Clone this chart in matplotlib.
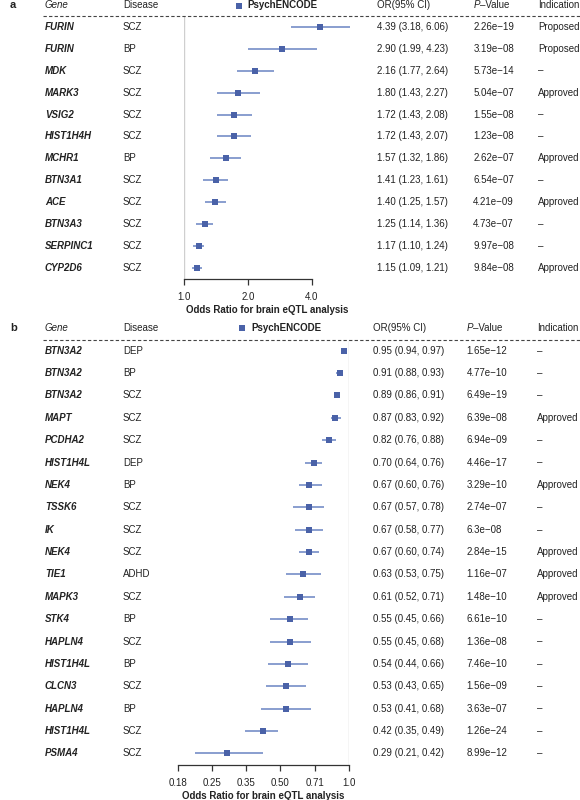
import numpy as np
import matplotlib
matplotlib.use('Agg')
import matplotlib.pyplot as plt
from matplotlib import transforms
from matplotlib.lines import Line2D
from matplotlib.ticker import NullLocator

plt.rcParams['font.family'] = ['Liberation Sans', 'DejaVu Sans']
plt.rcParams['font.size'] = 7

# ---------------- data: panel a ----------------
genes_a = ['FURIN', 'FURIN', 'MDK', 'MARK3', 'VSIG2', 'HIST1H4H', 'MCHR1',
           'BTN3A1', 'ACE', 'BTN3A3', 'SERPINC1', 'CYP2D6']
disease_a = ['SCZ', 'BP', 'SCZ', 'SCZ', 'SCZ', 'SCZ', 'BP', 'SCZ', 'SCZ',
             'SCZ', 'SCZ', 'SCZ']
or_a = [4.39, 2.90, 2.16, 1.80, 1.72, 1.72, 1.57, 1.41, 1.40, 1.25, 1.17, 1.15]
lo_a = [3.18, 1.99, 1.77, 1.43, 1.43, 1.43, 1.32, 1.23, 1.25, 1.14, 1.10, 1.09]
hi_a = [6.06, 4.23, 2.64, 2.27, 2.08, 2.07, 1.86, 1.61, 1.57, 1.36, 1.24, 1.21]
p_a = ['2.26e\u221219', '3.19e\u221208', '5.73e\u221214', '5.04e\u221207',
       '1.55e\u221208', '1.23e\u221208', '2.62e\u221207', '6.54e\u221207',
       '4.21e\u221209', '4.73e\u221207', '9.97e\u221208', '9.84e\u221208']
ind_a = ['Proposed', 'Proposed', '\u2013', 'Approved', '\u2013', '\u2013',
         'Approved', '\u2013', 'Approved', '\u2013', '\u2013', 'Approved']
ticks_a = [1.0, 2.0, 4.0]
ticklabels_a = ['1.0', '2.0', '4.0']

# ---------------- data: panel b ----------------
genes_b = ['BTN3A2', 'BTN3A2', 'BTN3A2', 'MAPT', 'PCDHA2', 'HIST1H4L', 'NEK4',
           'TSSK6', 'IK', 'NEK4', 'TIE1', 'MAPK3', 'STK4', 'HAPLN4',
           'HIST1H4L', 'CLCN3', 'HAPLN4', 'HIST1H4L', 'PSMA4']
disease_b = ['DEP', 'BP', 'SCZ', 'SCZ', 'SCZ', 'DEP', 'BP', 'SCZ', 'SCZ',
             'SCZ', 'ADHD', 'SCZ', 'BP', 'SCZ', 'BP', 'SCZ', 'BP', 'SCZ', 'SCZ']
or_b = [0.95, 0.91, 0.89, 0.87, 0.82, 0.70, 0.67, 0.67, 0.67, 0.67, 0.63,
        0.61, 0.55, 0.55, 0.54, 0.53, 0.53, 0.42, 0.29]
lo_b = [0.94, 0.88, 0.86, 0.83, 0.76, 0.64, 0.60, 0.57, 0.58, 0.60, 0.53,
        0.52, 0.45, 0.45, 0.44, 0.43, 0.41, 0.35, 0.21]
hi_b = [0.97, 0.93, 0.91, 0.92, 0.88, 0.76, 0.76, 0.78, 0.77, 0.74, 0.75,
        0.71, 0.66, 0.68, 0.66, 0.65, 0.68, 0.49, 0.42]
p_b = ['1.65e\u221212', '4.77e\u221210', '6.49e\u221219', '6.39e\u221208',
       '6.94e\u221209', '4.46e\u221217', '3.29e\u221210', '2.74e\u221207',
       '6.3e\u221208', '2.84e\u221215', '1.16e\u221207', '1.48e\u221210',
       '6.61e\u221210', '1.36e\u221208', '7.46e\u221210', '1.56e\u221209',
       '3.63e\u221207', '1.26e\u221224', '8.99e\u221212']
ind_b = ['\u2013', '\u2013', '\u2013', 'Approved', '\u2013', '\u2013',
         'Approved', '\u2013', '\u2013', 'Approved', 'Approved', 'Approved',
         '\u2013', '\u2013', '\u2013', '\u2013', '\u2013', '\u2013', '\u2013']
ticks_b = [2 ** -2.5, 2 ** -2, 2 ** -1.5, 2 ** -1, 2 ** -0.5, 1.0]
ticklabels_b = ['0.18', '0.25', '0.35', '0.50', '0.71', '1.0']

# ---------------- layout ----------------
W, H = 580, 800
fig = plt.figure(figsize=(5.8, 8), dpi=100)


def fx(px):
    return px / W


def fy(py):
    return 1 - py / H


MARK = '#4A62A8'
LINE = '#6A84C2'
GRID = '#CFCFCF'
TXT = '#222222'


def panel(label, genes, disease, orv, lo, hi, pv, ind, ax_px, row0, step,
          header_px, cols, legend_px, xlim, ticks, ticklabels, bounds,
          tickpad):
    left, right, top, bottom = ax_px
    ax = fig.add_axes([fx(left), fy(bottom), fx(right) - fx(left),
                       fy(top) - fy(bottom)])
    ax.patch.set_visible(False)
    n = len(genes)
    y = np.arange(n)
    ybot = (bottom - row0) / step
    ytop = (top - row0) / step
    ax.set_xscale('log', base=2)
    ax.axvline(1.0, color=GRID, lw=1.0, zorder=0)
    ax.hlines(y, lo, hi, color=LINE, lw=1.1, zorder=2, clip_on=False)
    ax.plot(orv, y, 's', color=MARK, ms=4.2, mew=0, zorder=3, clip_on=False)
    ax.set_xlim(*xlim)
    ax.set_ylim(ybot, ytop)
    for s in ['left', 'right', 'top']:
        ax.spines[s].set_visible(False)
    ax.spines['bottom'].set_bounds(*bounds)
    ax.spines['bottom'].set_linewidth(0.9)
    ax.spines['bottom'].set_color('#333333')
    ax.set_yticks([])
    ax.set_xticks(ticks)
    ax.set_xticklabels(ticklabels)
    ax.xaxis.set_minor_locator(NullLocator())
    ax.tick_params(axis='x', length=4, width=0.9, pad=tickpad,
                   color='#333333', labelsize=7, labelcolor=TXT)
    ax.set_xlabel('Odds Ratio for brain eQTL analysis', fontweight='bold',
                  fontsize=7, labelpad=2.5, color=TXT)

    trans = transforms.blended_transform_factory(fig.transFigure, ax.transData)
    x_gene, x_dis, x_or, x_p, x_ind = cols
    for i in range(n):
        fig.text(fx(x_gene), i, genes[i], transform=trans, va='center',
                 ha='left', style='italic', fontweight='bold', color=TXT)
        fig.text(fx(x_dis), i, disease[i], transform=trans, va='center',
                 ha='left', color=TXT)
        fig.text(fx(x_or), i, f'{orv[i]:.2f} ({lo[i]:.2f}, {hi[i]:.2f})',
                 transform=trans, va='center', ha='left', color=TXT)
        fig.text(fx(x_p), i, pv[i], transform=trans, va='center', ha='left',
                 color=TXT)
        fig.text(fx(x_ind), i, ind[i], transform=trans, va='center',
                 ha='left', color=TXT)

    yh = (header_px - row0) / step
    fig.text(fx(10), yh, label, transform=trans, va='center', ha='left',
             fontweight='bold', fontsize=8, color=TXT)
    fig.text(fx(x_gene), yh, 'Gene', transform=trans, va='center', ha='left',
             style='italic', color=TXT)
    fig.text(fx(x_dis), yh, 'Disease', transform=trans, va='center',
             ha='left', color=TXT)
    fig.text(fx(x_or), yh, 'OR(95% CI)', transform=trans, va='center',
             ha='left', color=TXT)
    tp = fig.text(fx(x_p), yh, 'P', transform=trans, va='center', ha='left',
                  style='italic', color=TXT)
    ax.annotate('\u2013Value', xy=(1, 0.5), xycoords=tp, va='center',
                ha='left', color=TXT, fontsize=7, annotation_clip=False)
    fig.text(fx(x_ind), yh, 'Indication', transform=trans, va='center',
             ha='left', color=TXT)
    sq_x, txt_x = legend_px
    fig.add_artist(Line2D([fx(sq_x)], [yh], transform=trans, marker='s',
                          ms=4.2, mew=0, color=MARK, ls='none'))
    fig.text(fx(txt_x), yh, 'PsychENCODE', transform=trans, va='center',
             ha='left', fontweight='bold', color=TXT)
    fig.add_artist(Line2D([fx(43), fx(580)], [ytop, ytop], transform=trans,
                          ls=(0, (3, 2)), lw=0.8, color='#444444'))
    return ax


panel('a', genes_a, disease_a, or_a, lo_a, hi_a, p_a, ind_a,
      ax_px=(184.3, 349.9, 15.5, 279.0), row0=26.7, step=21.95,
      header_px=5.5, cols=(45, 123, 376.7, 473.3, 538),
      legend_px=(238.5, 247), xlim=(1.0, 2 ** 2.6),
      ticks=ticks_a, ticklabels=ticklabels_a, bounds=(1.0, 4.0), tickpad=5)

panel('b', genes_b, disease_b, or_b, lo_b, hi_b, p_b, ind_b,
      ax_px=(177.7, 349.0, 340.0, 765.0), row0=350.7, step=22.37,
      header_px=328.3, cols=(45, 123, 373.3, 466.7, 537),
      legend_px=(242, 251.7), xlim=(2 ** -2.5, 1.0),
      ticks=ticks_b, ticklabels=ticklabels_b, bounds=(2 ** -2.5, 1.0),
      tickpad=5)

fig.savefig('out.png', dpi=100, facecolor='white')
